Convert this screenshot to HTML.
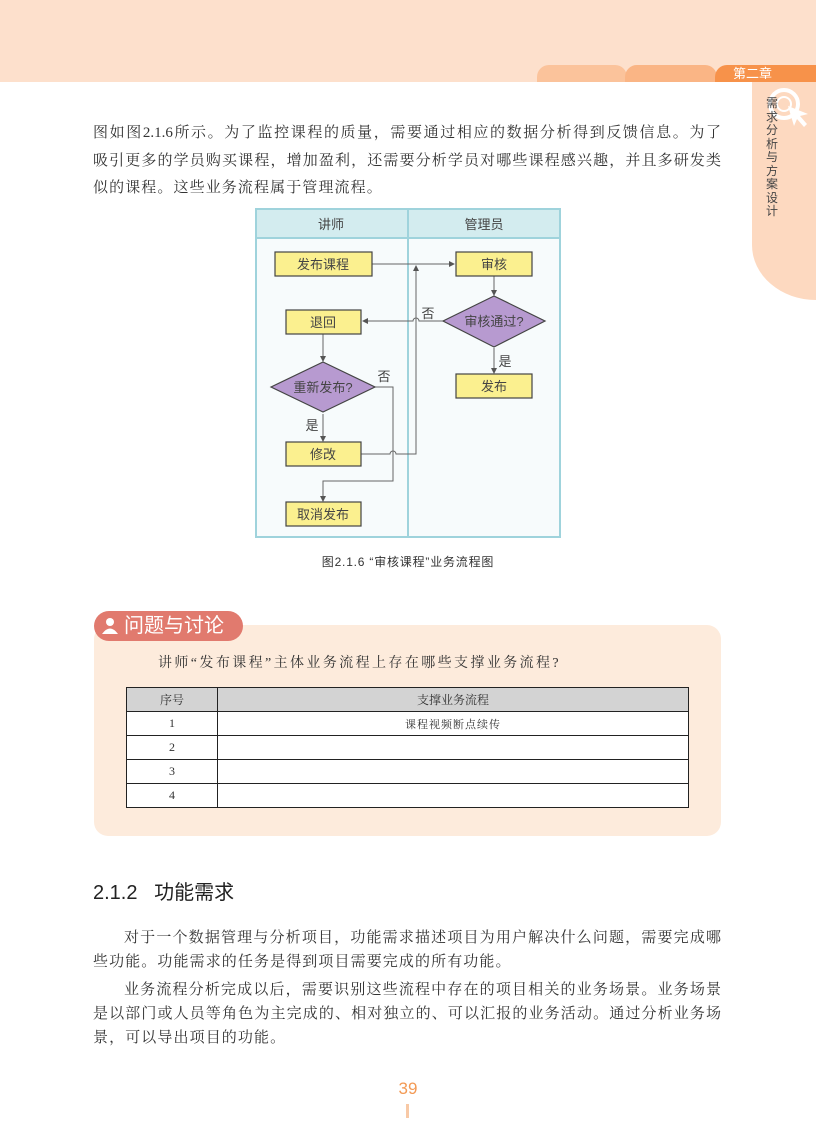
<!DOCTYPE html>
<html><head><meta charset="utf-8"><style>
body{margin:0;width:816px;height:1145px;background:#fff;position:relative;overflow:hidden;font-family:"Liberation Serif","Noto Serif CJK SC",serif;color:#333}
.a{position:absolute}
.l{position:absolute;left:93px;width:628px;font-size:15px;line-height:20px;text-align:justify;text-align-last:justify;white-space:nowrap}
.s{font-family:"Liberation Sans","Noto Sans CJK SC",sans-serif}
table{border-collapse:collapse;background:#fff}
td{border:1.5px solid #222;height:23px;text-align:center;font-size:12px;padding:0}
</style></head><body>
<div class="a" style="left:0;top:0;width:816px;height:82px;background:#fde0cc"></div>
<div class="a" style="left:537px;top:65px;width:90px;height:17px;background:#fbc39b;border-radius:12px 12px 0 0"></div>
<div class="a" style="left:625px;top:65px;width:92px;height:17px;background:#fab585;border-radius:12px 12px 0 0"></div>
<div class="a s" style="left:715px;top:65px;width:101px;height:17px;background:#f7924a;border-radius:12px 0 0 0;color:#fff;font-size:13px;line-height:17px;padding-left:18px;box-sizing:border-box">第二章</div>
<div class="a" style="left:752px;top:82px;width:64px;height:218px;background:#fdd9c0;border-radius:0 0 0 70px/0 0 0 60px"></div>
<svg class="a" style="left:762px;top:84px" width="54" height="50"><circle cx="22" cy="20" r="14" fill="none" stroke="#fff" stroke-width="4"/><circle cx="22" cy="20" r="7" fill="none" stroke="#fff" stroke-width="2"/><path d="M26 22 L32 42 L35 35 L42 43 L45 40 L38 32 L46 30z" fill="#fff"/></svg>
<div class="a s" style="left:766px;top:97px;width:14px;font-size:12px;line-height:13.5px;color:#444">需求分析与方案设计</div>

<div class="l" style="top:123px">图如图2.1.6所示。为了监控课程的质量，需要通过相应的数据分析得到反馈信息。为了</div>
<div class="l" style="top:151px">吸引更多的学员购买课程，增加盈利，还需要分析学员对哪些课程感兴趣，并且多研发类</div>
<div class="l" style="top:178px;text-align-last:left;letter-spacing:1.1px">似的课程。这些业务流程属于管理流程。</div>

<svg class="a s" style="left:0;top:0" width="816" height="600" font-family="Liberation Sans,Noto Sans CJK SC,sans-serif">
<defs><marker id="ar" markerWidth="6" markerHeight="6" refX="5" refY="3" orient="auto"><path d="M0,0 L6,3 L0,6z" fill="#555"/></marker></defs>
<rect x="256" y="209" width="304" height="328" fill="#f7fbfc" stroke="#9fd3dc" stroke-width="2"/>
<rect x="257" y="210" width="302" height="28" fill="#d3ecef"/>
<line x1="256" y1="238" x2="560" y2="238" stroke="#9fd3dc" stroke-width="2"/>
<line x1="408" y1="209" x2="408" y2="537" stroke="#9fd3dc" stroke-width="2"/>
<text x="331" y="229" font-size="13" text-anchor="middle" fill="#444">讲师</text>
<text x="484" y="229" font-size="13" text-anchor="middle" fill="#444">管理员</text>
<g stroke="#666" stroke-width="1" fill="none">
<line x1="372" y1="264" x2="454" y2="264" marker-end="url(#ar)"/>
<line x1="494" y1="276" x2="494" y2="295" marker-end="url(#ar)"/>
<line x1="494" y1="348" x2="494" y2="373" marker-end="url(#ar)"/>
<path d="M443 321 H419 a3 3 0 0 0 -6 0 H363" marker-end="url(#ar)"/>
<line x1="323" y1="334" x2="323" y2="361" marker-end="url(#ar)"/>
<line x1="323" y1="414" x2="323" y2="441" marker-end="url(#ar)"/>
<path d="M361 454 H390 a3 3 0 0 1 6 0 H416 V266" marker-end="url(#ar)"/>
<path d="M375 387 H393 V481 H323 V501" marker-end="url(#ar)"/>
</g>
<g stroke="#444" stroke-width="1.2" fill="#fbf08f">
<rect x="275" y="252" width="97" height="24"/><rect x="456" y="252" width="76" height="24"/>
<rect x="286" y="310" width="75" height="24"/><rect x="456" y="374" width="76" height="24"/>
<rect x="286" y="442" width="75" height="24"/><rect x="286" y="502" width="75" height="24"/>
</g>
<g stroke="#444" stroke-width="1.2" fill="#b79ad0">
<path d="M443 321 L494 296 L545 321 L494 347z"/><path d="M271 387 L323 362 L375 387 L323 412z"/>
</g>
<g font-size="13" text-anchor="middle" fill="#444">
<text x="323" y="269">发布课程</text><text x="494" y="269">审核</text><text x="323" y="327">退回</text>
<text x="494" y="391">发布</text><text x="323" y="459">修改</text><text x="323" y="519">取消发布</text>
<text x="494" y="326">审核通过?</text><text x="323" y="392">重新发布?</text>
<text x="428" y="318">否</text><text x="505" y="366">是</text><text x="384" y="381">否</text><text x="312" y="430">是</text>
</g>
<text x="408" y="566" font-size="12" text-anchor="middle" fill="#333" letter-spacing="0.8">图2.1.6 “审核课程”业务流程图</text>
</svg>

<div class="a" style="left:94px;top:625px;width:627px;height:211px;background:#fdebdc;border-radius:14px"></div>
<div class="a s" style="left:94px;top:611px;width:149px;height:30px;background:#e17a6e;border-radius:15px;color:#fff;font-size:20px;line-height:30px;padding-left:30px;box-sizing:border-box">问题与讨论</div>
<svg class="a" style="left:101px;top:617px" width="22" height="18"><circle cx="9" cy="5" r="4" fill="#fff"/><path d="M1 17 Q9 6 17 17z" fill="#fff"/></svg>
<div class="a" style="left:158px;top:652px;font-size:14px;letter-spacing:2.4px;color:#333">讲师“发布课程”主体业务流程上存在哪些支撑业务流程?</div>
<table class="a" style="left:126px;top:687px;width:563px">
<tr style="background:#d3d3d3"><td style="width:90px">序号</td><td>支撑业务流程</td></tr>
<tr><td>1</td><td style="font-size:11px;letter-spacing:1px">课程视频断点续传</td></tr>
<tr><td>2</td><td></td></tr><tr><td>3</td><td></td></tr><tr><td>4</td><td></td></tr>
</table>

<div class="a s" style="left:93px;top:876px;font-size:20px;color:#222">2.1.2&nbsp;&nbsp;&nbsp;功能需求</div>
<div class="l" style="top:928px;left:124px;width:597px">对于一个数据管理与分析项目，功能需求描述项目为用户解决什么问题，需要完成哪</div>
<div class="l" style="top:952px;text-align-last:left;letter-spacing:1.1px">些功能。功能需求的任务是得到项目需要完成的所有功能。</div>
<div class="l" style="top:980px;left:124px;width:597px">业务流程分析完成以后，需要识别这些流程中存在的项目相关的业务场景。业务场景</div>
<div class="l" style="top:1004px">是以部门或人员等角色为主完成的、相对独立的、可以汇报的业务活动。通过分析业务场</div>
<div class="l" style="top:1028px;text-align-last:left;letter-spacing:1.1px">景，可以导出项目的功能。</div>
<div class="a s" style="left:388px;top:1079px;width:40px;text-align:center;font-size:17px;color:#f39a55">39</div>
<div class="a" style="left:406px;top:1104px;width:3px;height:14px;background:#f8c9a6"></div>
</body></html>
